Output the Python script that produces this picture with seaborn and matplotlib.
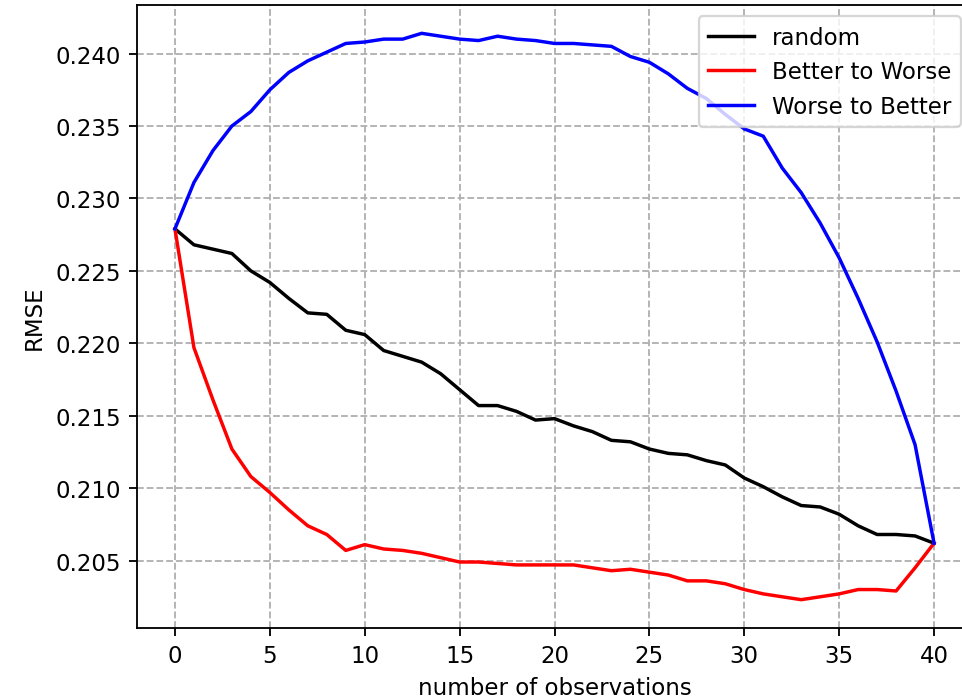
import numpy as np
import pandas as pd
import matplotlib
matplotlib.use("Agg")
import matplotlib.pyplot as plt
import seaborn as sns

observations = list(range(41))

random_rmse = [0.2279, 0.2268, 0.2265, 0.2262, 0.2250, 0.2242, 0.2231, 0.2221, 0.2220, 0.2209,
               0.2206, 0.2195, 0.2191, 0.2187, 0.2179, 0.2168, 0.2157, 0.2157, 0.2153, 0.2147,
               0.2148, 0.2143, 0.2139, 0.2133, 0.2132, 0.2127, 0.2124, 0.2123, 0.2119, 0.2116,
               0.2107, 0.2101, 0.2094, 0.2088, 0.2087, 0.2082, 0.2074, 0.2068, 0.2068, 0.2067,
               0.2062]

better_to_worse = [0.2279, 0.2197, 0.2161, 0.2127, 0.2108, 0.2097, 0.2085, 0.2074, 0.2068, 0.2057,
                   0.2061, 0.2058, 0.2057, 0.2055, 0.2052, 0.2049, 0.2049, 0.2048, 0.2047, 0.2047,
                   0.2047, 0.2047, 0.2045, 0.2043, 0.2044, 0.2042, 0.2040, 0.2036, 0.2036, 0.2034,
                   0.2030, 0.2027, 0.2025, 0.2023, 0.2025, 0.2027, 0.2030, 0.2030, 0.2029, 0.2045,
                   0.2062]

worse_to_better = [0.2279, 0.2311, 0.2333, 0.2350, 0.2360, 0.2375, 0.2387, 0.2395, 0.2401, 0.2407,
                   0.2408, 0.2410, 0.2410, 0.2414, 0.2412, 0.2410, 0.2409, 0.2412, 0.2410, 0.2409,
                   0.2407, 0.2407, 0.2406, 0.2405, 0.2398, 0.2394, 0.2386, 0.2376, 0.2369, 0.2358,
                   0.2348, 0.2343, 0.2321, 0.2304, 0.2283, 0.2259, 0.2231, 0.2201, 0.2167, 0.2130,
                   0.2062]

series_names = ["random", "Better to Worse", "Worse to Better"]
series_colors = ["black", "red", "blue"]

df = pd.concat([
    pd.DataFrame({"obs": observations, "rmse": vals, "method": name})
    for name, vals in zip(series_names, [random_rmse, better_to_worse, worse_to_better])
], ignore_index=True)

DPI = 165
fig = plt.figure(figsize=(962 / DPI, 701 / DPI), dpi=DPI)
ax = fig.add_axes([137 / 962, 72 / 701, (972 - 137) / 962, (629 - 6) / 701])

sns.lineplot(data=df, x="obs", y="rmse", hue="method", hue_order=series_names,
             palette=dict(zip(series_names, series_colors)), ax=ax, linewidth=1.5)

ax.grid(True, linestyle="--", color="#b0b0b0", linewidth=0.8)
ax.set_xlabel("number of observations")
ax.set_ylabel("RMSE")
ax.legend(loc="upper right")

fig.savefig("out.png", dpi=DPI)
